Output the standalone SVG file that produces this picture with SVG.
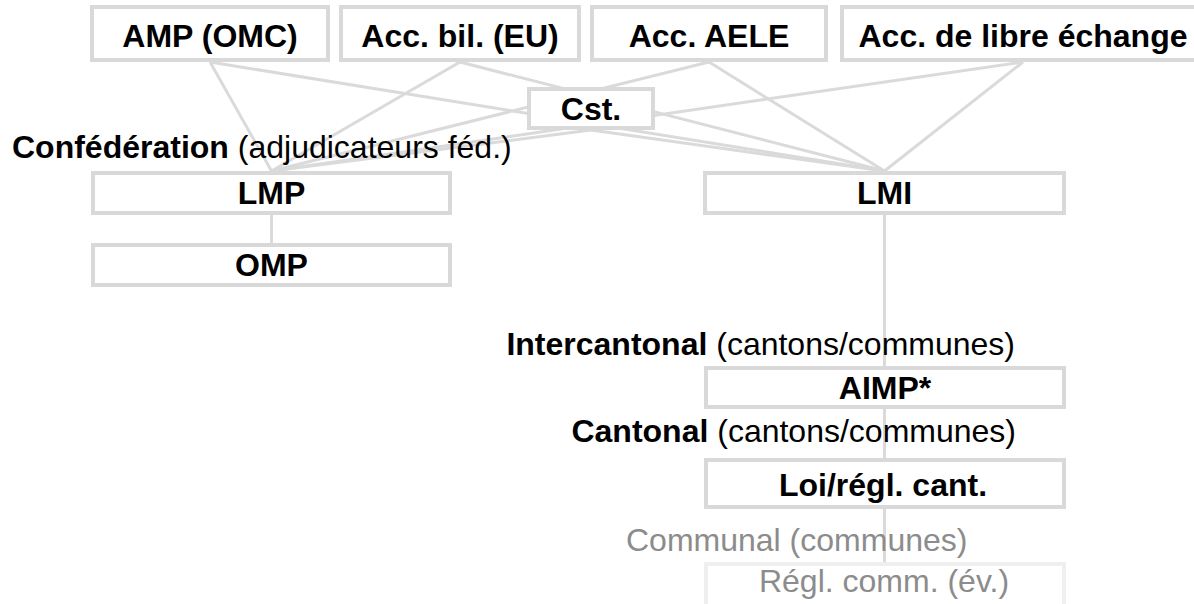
<svg xmlns="http://www.w3.org/2000/svg" width="1194" height="604" viewBox="0 0 1194 604">
<style>
.box{fill:#fff;stroke:#d9d9d9;stroke-width:4}
.faint{fill:#fff;stroke:#efefef;stroke-width:4}
.t{font-family:"Liberation Sans",Arial,sans-serif;font-size:32px;font-weight:bold;fill:#000;text-anchor:middle}
.lbl{font-family:"Liberation Sans",Arial,sans-serif;font-size:32px;fill:#000}
.b{font-weight:bold}
.gray{fill:#8c8c8c}
.tn{font-family:"Liberation Sans",Arial,sans-serif;font-size:32px;font-weight:normal;fill:#8c8c8c;text-anchor:middle}
.edge{stroke:#dadada;stroke-width:3;fill:none}
</style>
<rect width="1194" height="604" fill="#fff"/>
<g id="connectors">
<line class="edge" x1="210" y1="62" x2="271.5" y2="171"/>
<line class="edge" x1="210" y1="62" x2="884.5" y2="171"/>
<line class="edge" x1="460" y1="62" x2="271.5" y2="171"/>
<line class="edge" x1="460" y1="62" x2="884.5" y2="171"/>
<line class="edge" x1="709" y1="62" x2="271.5" y2="171"/>
<line class="edge" x1="709" y1="62" x2="884.5" y2="171"/>
<line class="edge" x1="1023" y1="62" x2="271.5" y2="171"/>
<line class="edge" x1="1023" y1="62" x2="884.5" y2="171"/>
<line class="edge" x1="591" y1="130" x2="271.5" y2="171"/>
<line class="edge" x1="591" y1="130" x2="884.5" y2="171"/>
<line class="edge" x1="271.5" y1="215" x2="271.5" y2="243"/>
<line class="edge" x1="884.5" y1="215" x2="884.5" y2="562"/>
</g>
<g id="amp"><rect class="box" x="92" y="7" width="236" height="53"/><text class="t" x="210" y="47">AMP (OMC)</text></g>
<g id="accbil"><rect class="box" x="341" y="7" width="238" height="53"/><text class="t" x="460" y="47">Acc. bil. (EU)</text></g>
<g id="aele"><rect class="box" x="592" y="7" width="234" height="53"/><text class="t" x="709" y="47">Acc. AELE</text></g>
<g id="libre"><rect class="box" x="842" y="7" width="362" height="53"/><text class="t" x="1023" y="47">Acc. de libre échange</text></g>
<g id="cst"><rect class="box" x="529" y="89" width="124" height="39"/><text class="t" x="591" y="120">Cst.</text></g>
<g id="label-conf"><text class="lbl" x="12" y="158"><tspan class="b">Confédération</tspan> (adjudicateurs féd.)</text></g>
<g id="lmp"><rect class="box" x="93" y="173" width="357" height="40"/><text class="t" x="271.5" y="204">LMP</text></g>
<g id="omp"><rect class="box" x="93" y="245" width="357" height="40"/><text class="t" x="271.5" y="276">OMP</text></g>
<g id="lmi"><rect class="box" x="705" y="173" width="359" height="40"/><text class="t" x="884.5" y="204">LMI</text></g>
<g id="label-inter"><text class="lbl" x="1015" y="355" text-anchor="end"><tspan class="b">Intercantonal</tspan> (cantons/communes)</text></g>
<g id="aimp"><rect class="box" x="706" y="368" width="358" height="39"/><text class="t" x="885" y="399">AIMP*</text></g>
<g id="label-cant"><text class="lbl" x="1016" y="442" text-anchor="end"><tspan class="b">Cantonal</tspan> (cantons/communes)</text></g>
<g id="loi"><rect class="box" x="706" y="460" width="358" height="47"/><text class="t" x="883" y="496">Loi/régl. cant.</text></g>
<g id="label-comm"><text class="lbl gray" x="626" y="551">Communal (communes)</text></g>
<g id="reglcomm"><rect class="faint" x="706" y="564" width="358" height="60"/><text class="tn" x="884" y="592">Régl. comm. (év.)</text></g>
</svg>
